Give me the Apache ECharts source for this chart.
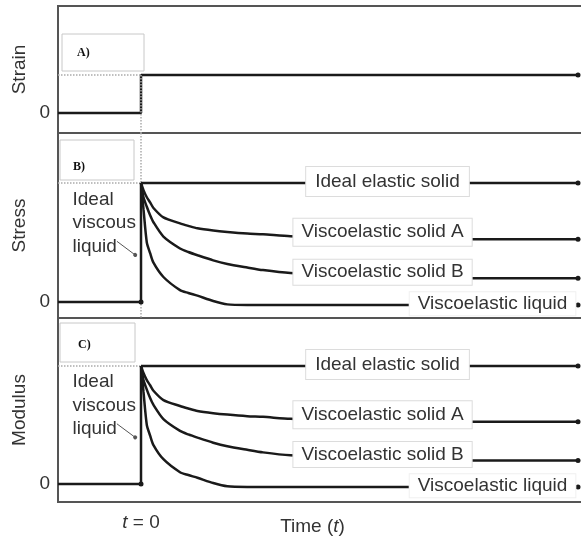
<!DOCTYPE html>
<html>
<head>
<meta charset="utf-8">
<script src="https://cdn.jsdelivr.net/npm/echarts@6/dist/echarts.min.js"></script>
<style>
  html, body { margin: 0; padding: 0; background: #fff; }
  #chart { width: 581px; height: 538px; }
</style>
</head>
<body>
<div id="chart"></div>
<script>
// panel A: strain step applied at t = 0
const stepTimes = [-1, 0, 0, 5.265]
const strainValues = [0, 0, 1, 1]

// panels B and C: relaxation responses (normalised, 1 = initial value)
const relaxTimes = [0, 0.03, 0.07, 0.11, 0.15, 0.27, 0.47, 0.57, 0.68, 0.87, 1.04, 1.28, 1.47, 1.8, 2.5, 4.0, 5.265]
const solidA = [1.0, 0.94, 0.88, 0.837, 0.79, 0.711, 0.661, 0.64, 0.619, 0.6, 0.588, 0.575, 0.569, 0.552, 0.54, 0.527, 0.527]
const solidB = [1.0, 0.88, 0.8, 0.728, 0.67, 0.55, 0.45, 0.42, 0.393, 0.35, 0.32, 0.29, 0.268, 0.243, 0.22, 0.2, 0.2]
const viscoLiquid = [1.0, 0.78, 0.5, 0.41, 0.33, 0.21, 0.1, 0.076, 0.053, 0.008, -0.02, -0.025, -0.025, -0.025, -0.025, -0.025, -0.025]

const elasticTimes = [0, 5.265]
const elasticValues = [1, 1]
const viscousTimes = [-1, 0, 0]
const viscousValues = [0, 0, 1]

const panelNames = ['Strain', 'Stress', 'Modulus']
const panelLetters = ['A)', 'B)', 'C)']
const curveNames = ['Ideal elastic solid', 'Viscoelastic solid A', 'Viscoelastic solid B', 'Viscoelastic liquid']
const viscousLabel = 'Ideal\nviscous\nliquid'

const FONT = '"Liberation Sans", Arial, sans-serif'
const TEXT = '#333'
const INK = '#1a1a1a'

const grids = [
  { left: 58, right: -2, top: 6, height: 127 },
  { left: 58, right: -2, top: 133, height: 185 },
  { left: 58, right: -2, top: 318, height: 184 },
]
const yRanges = [
  [-0.5263, 2.816],
  [-0.1345, 1.42],
  [-0.1525, 1.4068],
]

const pairs = (xs, ys) =>
  xs.map((t, i) =>
    i === xs.length - 1 ? { value: [t, ys[i]], symbol: 'circle', symbolSize: 5 } : [t, ys[i]]
  )

const boxLabel = {
  show: true,
  position: 'inside',
  fontFamily: FONT,
  fontSize: 19,
  color: TEXT,
  backgroundColor: '#fff',
  borderColor: '#dcdcdc',
  borderWidth: 1,
}

const curve = (name, xs, ys, panel, extra) => ({
  type: 'line',
  name,
  xAxisIndex: panel,
  yAxisIndex: panel,
  data: pairs(xs, ys),
  symbol: 'none',
  showSymbol: true,
  showAllSymbol: true,
  smooth: 0.25,
  lineStyle: { color: INK, width: 2.5 },
  itemStyle: { color: INK },
  silent: true,
  ...extra,
})

// label boxes sit on top of the curves they interrupt
const labelPoint = (text, coord, label) => ({
  z: 20,
  symbol: 'circle',
  symbolSize: 1,
  itemStyle: { color: 'rgba(0,0,0,0)' },
  data: [{ coord }],
  label: { ...boxLabel, formatter: () => text, ...label },
})

const dotted = { color: '#aaa', type: 'dotted', width: 1.5 }

const series = [
  curve('strain', stepTimes, strainValues, 0, {
    smooth: false,
    markLine: {
      silent: true,
      symbol: ['none', 'none'],
      label: { show: false },
      lineStyle: dotted,
      data: [
        [{ coord: [-1, 1] }, { coord: [0, 1] }],
        [{ coord: [0, 1] }, { coord: [0, yRanges[0][0]] }],
      ],
    },
  }),
]

// relaxation panels B (stress) and C (modulus)
;[1, 2].forEach(p => {
  const bottom = p === 2 ? -0.2 : yRanges[p][0]
  series.push(
    curve('viscous', viscousTimes, viscousValues, p, {
      smooth: false,
      data: viscousTimes.map((t, i) =>
        i === 1 ? { value: [t, viscousValues[i]], symbol: 'circle', symbolSize: 5 } : [t, viscousValues[i]]
      ),
      markLine: {
        silent: true,
        z: 1,
        symbol: ['none', 'none'],
        label: { show: false },
        lineStyle: dotted,
        data: [
          [{ coord: [-1, 1] }, { coord: [0, 1] }],
          [{ coord: [0, yRanges[p][1]] }, { coord: [0, bottom] }],
        ],
      },
      markPoint: labelPoint(viscousLabel, [-0.831, 0.665], {
        position: 'right',
        distance: 0,
        align: 'left',
        lineHeight: 23.5,
        backgroundColor: 'transparent',
        borderWidth: 0,
      }),
    }),
    curve(curveNames[0], elasticTimes, elasticValues, p, {
      smooth: false,
      markLine: {
        silent: true,
        label: { show: false },
        lineStyle: { color: '#555', width: 1, type: 'solid' },
        data: [
          [
            { coord: [-0.29, 0.51], symbol: 'none' },
            { coord: [-0.07, 0.395], symbol: 'circle', symbolSize: 4 },
          ],
        ],
      },
      markPoint: labelPoint(curveNames[0], [2.97, 1.012], { padding: [5, 9] }),
    }),
    curve(curveNames[1], relaxTimes, solidA, p, {
      markPoint: labelPoint(curveNames[1], [2.91, 0.586], { padding: [4, 8] }),
    }),
    curve(curveNames[2], relaxTimes, solidB, p, {
      markPoint: labelPoint(curveNames[2], [2.91, 0.25], { padding: [3, 8] }),
    }),
    curve(curveNames[3], relaxTimes, viscoLiquid, p, {
      markPoint: labelPoint(curveNames[3], [4.235, -0.015], {
        padding: [2, 8],
        borderColor: '#f0f0f0',
      }),
    })
  )
})

const option = {
  backgroundColor: '#fff',
  animation: false,
  grid: grids.map(g => ({
    ...g,
    show: true,
    outerBoundsMode: 'none',
    containLabel: false,
    borderColor: '#555',
    borderWidth: 2,
    backgroundColor: 'transparent',
  })),
  xAxis: grids.map((g, i) => ({
    gridIndex: i,
    type: 'value',
    min: -1,
    max: 5.325,
    show: i === 2,
    axisLine: { show: false },
    axisTick: { show: false },
    splitLine: { show: false },
    axisLabel: {
      customValues: [0],
      margin: 11,
      fontFamily: FONT,
      fontSize: 19,
      color: TEXT,
      formatter: () => '{i|t} = 0',
      rich: { i: { fontStyle: 'italic', fontFamily: FONT, fontSize: 19, color: TEXT } },
    },
    name: 'Time ({i|t})',
    nameLocation: 'middle',
    nameGap: 15,
    nameMoveOverlap: false,
    nameTextStyle: {
      fontFamily: FONT,
      fontSize: 19,
      color: TEXT,
      padding: [0, 16, 0, 0],
      rich: { i: { fontStyle: 'italic', fontFamily: FONT, fontSize: 19, color: TEXT } },
    },
  })),
  yAxis: grids.map((g, i) => ({
    gridIndex: i,
    type: 'value',
    min: yRanges[i][0],
    max: yRanges[i][1],
    name: panelNames[i],
    nameLocation: 'middle',
    nameGap: 29,
    nameMoveOverlap: false,
    nameTextStyle: { fontFamily: FONT, fontSize: 19, color: TEXT },
    axisLine: { show: false },
    axisTick: { show: false },
    splitLine: { show: false },
    axisLabel: { customValues: [0], margin: 8, fontFamily: FONT, fontSize: 19, color: TEXT },
  })),
  graphic: [
    [62, 34, 82, 37, 77, 53],
    [60, 140, 74, 40, 73, 167],
    [60, 323, 75, 39, 78, 345],
  ].map((b, i) => ({
    type: 'group',
    children: [
      {
        type: 'rect',
        shape: { x: b[0], y: b[1], width: b[2], height: b[3] },
        style: { fill: '#fff', stroke: '#c8c8c8', lineWidth: 1 },
      },
      {
        type: 'text',
        x: b[4],
        y: b[5],
        style: {
          text: panelLetters[i],
          font: 'bold 12px "Liberation Serif", "Times New Roman", serif',
          fill: '#111',
          verticalAlign: 'middle',
        },
      },
    ],
  })),
  series,
}

const chart = echarts.init(document.getElementById('chart'))
chart.setOption(option)
</script>
</body>
</html>
